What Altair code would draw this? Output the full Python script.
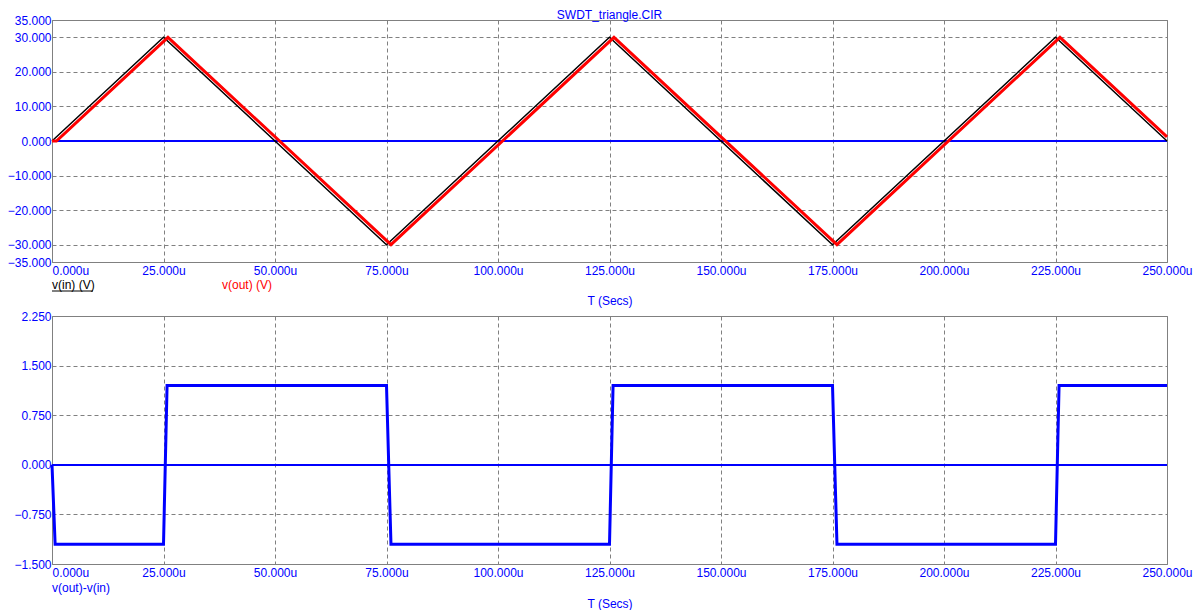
import altair as alt
import pandas as pd

# ---- data (times in microseconds) ----
t_in = [0, 25, 75, 125, 175, 225, 250]
v_in = [0, 30, -30, 30, -30, 30, 0]
t_out = [0, 1, 26, 76, 126, 176, 226, 250]
v_out = [0, 0, 30, -30, 30, -30, 30, 1.2]
t_diff = [0, 0.7, 25.0, 25.8, 75.0, 76.0, 125.0, 125.8, 175.0, 176.0, 225.0, 225.8, 250]
v_diff = [0, -1.2, -1.2, 1.2, 1.2, -1.2, -1.2, 1.2, 1.2, -1.2, -1.2, 1.2, 1.2]
x_ticks = [0, 25, 50, 75, 100, 125, 150, 175, 200, 225, 250]
top_ticks = [-35, -30, -20, -10, 0, 10, 20, 30, 35]
bot_ticks = [-1.5, -0.75, 0, 0.75, 1.5, 2.25]

BLUE = "#0000ff"
GRID = "#808080"
W = 1115
H_TOP = 242
H_BOT = 248

df_in = pd.DataFrame({"t": t_in, "v": v_in})
df_out = pd.DataFrame({"t": t_out, "v": v_out})
df_diff = pd.DataFrame({"t": t_diff, "v": v_diff})


def x_axis(tp):
    return alt.Axis(
        values=x_ticks,
        labelExpr="format(datum.value, '.3f') + 'u'",
        title="T (Secs)",
        grid=True,
        gridDash=[4, 3],
        gridColor=GRID,
        ticks=False,
        tickSize=0,
        domain=False,
        labelFlush=False,
        labelOverlap=False,
        labelBound=False,
        labelAlign={"condition": {"test": "datum.value == 0", "value": "left"}, "value": "center"},
        labelColor=BLUE,
        titleColor=BLUE,
        labelFontSize=12,
        titleFontSize=12,
        titleFontWeight="normal",
        labelPadding=3,
        titlePadding=tp,
    )


def y_axis(vals):
    return alt.Axis(
        values=vals,
        format=".3f",
        title=None,
        grid=True,
        gridDash=[4, 3],
        gridColor=GRID,
        ticks=False,
        tickSize=0,
        domain=False,
        labelOverlap=False,
        labelFlush=False,
        labelColor=BLUE,
        labelFontSize=12,
        labelPadding=1,
    )


xs = alt.Scale(domain=[0, 250], nice=False, zero=False)
ys_top = alt.Scale(domain=[-35, 35], nice=False, zero=False)
ys_bot = alt.Scale(domain=[-1.5, 2.25], nice=False, zero=False)

X_TOP = alt.X("t:Q", scale=xs, axis=x_axis(19))
Y_TOP = alt.Y("v:Q", scale=ys_top, axis=y_axis(top_ticks))

zero_top = alt.Chart(df_in).mark_rule(color=BLUE, strokeWidth=1).encode(
    y=alt.Y(datum=0, scale=ys_top, axis=y_axis(top_ticks))
)
black = alt.Chart(df_in).mark_line(color="black", strokeWidth=1.5).encode(x=X_TOP, y=Y_TOP)
red = alt.Chart(df_out).mark_line(color="#ff0000", strokeWidth=3).encode(x=X_TOP, y=Y_TOP)

title_txt = alt.Chart(pd.DataFrame({"s": ["SWDT_triangle.CIR"]})).mark_text(
    align="center", baseline="alphabetic", fontSize=12, color=BLUE
).encode(x=alt.value(W / 2), y=alt.value(-1), text="s:N")
lab_in = alt.Chart(pd.DataFrame({"s": ["v(in) (V)"]})).mark_text(
    align="left", baseline="middle", fontSize=12, color="black"
).encode(x=alt.value(0), y=alt.value(H_TOP + 23), text="s:N")
under_in = alt.Chart(pd.DataFrame({"s": ["v(in) (V)"]})).mark_rule(color="black", strokeWidth=1).encode(
    x=alt.value(0), x2=alt.value(41), y=alt.value(H_TOP + 29)
)
lab_out = alt.Chart(pd.DataFrame({"s": ["v(out) (V)"]})).mark_text(
    align="left", baseline="middle", fontSize=12, color="#ff0000"
).encode(x=alt.value(170), y=alt.value(H_TOP + 23), text="s:N")

top = alt.layer(zero_top, black, red, title_txt, lab_in, under_in, lab_out).properties(
    width=W, height=H_TOP
)

X_BOT = alt.X("t:Q", scale=xs, axis=x_axis(20))
Y_BOT = alt.Y("v:Q", scale=ys_bot, axis=y_axis(bot_ticks))
zero_bot = alt.Chart(df_diff).mark_rule(color=BLUE, strokeWidth=1).encode(
    y=alt.Y(datum=0, scale=ys_bot, axis=y_axis(bot_ticks))
)
diff = alt.Chart(df_diff).mark_line(color=BLUE, strokeWidth=3).encode(x=X_BOT, y=Y_BOT)
lab_diff = alt.Chart(pd.DataFrame({"s": ["v(out)-v(in)"]})).mark_text(
    align="left", baseline="middle", fontSize=12, color=BLUE
).encode(x=alt.value(0), y=alt.value(H_BOT + 24), text="s:N")

bottom = alt.layer(zero_bot, diff, lab_diff).properties(width=W, height=H_BOT)

chart = (
    alt.vconcat(top, bottom, spacing=54, bounds="flush", padding={"left": -2, "top": 0, "right": 0, "bottom": 0})
    .configure(font="Liberation Sans")
    .configure_view(stroke=GRID, strokeWidth=1)
)

chart.save("out.html", embed_options={"renderer": "svg", "actions": False})
